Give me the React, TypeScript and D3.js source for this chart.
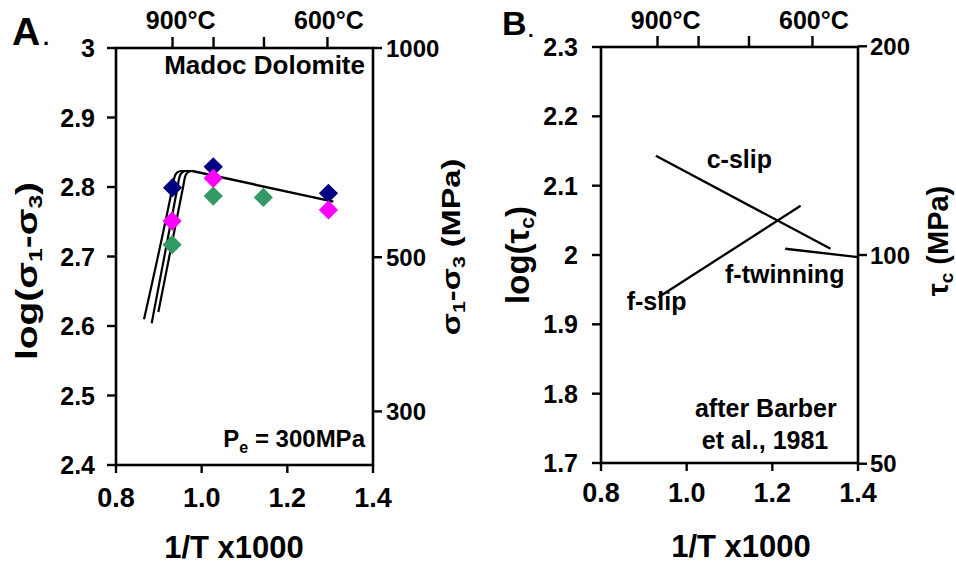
import React, { useEffect } from 'react'
import * as d3 from 'd3'

const FONT = '"Liberation Sans", Arial, Helvetica, sans-serif'

// shared x axis (1/T x1000) and the temperature ticks on top
const xTicks = [0.8, 1.0, 1.2, 1.4]
const topTempsC = [800, 700, 600, 500]
const topLabels = [
  { text: '900°C', x: 0.951 },
  { text: '600°C', x: 1.297 },
]

// panel A: log(s1-s3)
const ticksA = [2.4, 2.5, 2.6, 2.7, 2.8, 2.9, 3.0]
const rightTicksA = [1000, 500, 300]
const navyA = [
  [0.932, 2.799],
  [1.027, 2.829],
  [1.296, 2.791],
]
const greenA = [
  [0.931, 2.717],
  [1.027, 2.787],
  [1.144, 2.785],
]
const magentaA = [
  [0.931, 2.751],
  [1.027, 2.8125],
  [1.296, 2.767],
]
// three rising branches with rounded knee, then one common falling branch
const fitA1 = [[0.8654, 2.6096], [0.932, 2.8], [0.9365, 2.814], [0.943, 2.821], [0.952, 2.823], [0.978, 2.823]]
const fitA2 = [[0.8833, 2.6039], [0.9437, 2.8], [0.948, 2.814], [0.9545, 2.821], [0.963, 2.823], [0.978, 2.823]]
const fitA3 = [[0.8988, 2.6201], [0.9566, 2.8], [0.961, 2.814], [0.9675, 2.821], [0.978, 2.823]]
const fitTop = [[0.978, 2.823], [1.3073, 2.779]]

// panel B: log(tau_c), after Barber et al. 1981
const ticksB = [1.7, 1.8, 1.9, 2.0, 2.1, 2.2, 2.3]
const rightTicksB = [200, 100, 50]
const cSlip = [
  [0.928, 2.143],
  [1.336, 2.009],
]
const fSlip = [
  [0.934, 1.939],
  [1.266, 2.071],
]
const fTwinning = [
  [1.23, 2.009],
  [1.4, 1.997],
]

const fmtY = (v) => String(+v.toFixed(1))

const Frame = ({ left, right, top, bottom, yDomain, yTicks, rightTicks, leftGap, rightGap, xLabelDy, children }) => {
  const x = d3.scaleLinear().domain([0.8, 1.4]).range([left, right])
  const y = d3.scaleLinear().domain(yDomain).range([bottom, top])
  return (
    <g>
      {children(x, y)}
      <rect x={left} y={top} width={right - left} height={bottom - top} fill="none" stroke="#000" strokeWidth={2.6} />
      {yTicks.map((t) => (
        <g key={'l' + t}>
          <line x1={left - 9} x2={left} y1={y(t)} y2={y(t)} stroke="#000" strokeWidth={2.4} />
          <text x={left - leftGap} y={y(t)} dy="0.36em" textAnchor="end" fontSize={25} fontWeight="bold">
            {fmtY(t)}
          </text>
        </g>
      ))}
      {rightTicks.map((t) => (
        <g key={'r' + t}>
          <line x1={right} x2={right + 9} y1={y(Math.log10(t))} y2={y(Math.log10(t))} stroke="#000" strokeWidth={2.4} />
          <text x={right + rightGap} y={y(Math.log10(t))} dy="0.36em" fontSize={24} fontWeight="bold">
            {t}
          </text>
        </g>
      ))}
      {xTicks.map((t) => (
        <g key={'x' + t}>
          <line x1={x(t)} x2={x(t)} y1={bottom} y2={bottom + 8} stroke="#000" strokeWidth={2.4} />
          <text x={x(t)} y={bottom + xLabelDy} textAnchor="middle" fontSize={27} fontWeight="bold">
            {d3.format('.1f')(t)}
          </text>
        </g>
      ))}
      {topTempsC.map((c) => (
        <line key={'t' + c} x1={x(1000 / (c + 273))} x2={x(1000 / (c + 273))} y1={top} y2={top - 11} stroke="#000" strokeWidth={2.4} />
      ))}
      {topLabels.map((l) => (
        <text key={l.text} x={x(l.x)} y={29} textAnchor="middle" fontSize={25} fontWeight="bold">
          {l.text}
        </text>
      ))}
    </g>
  )
}

const Diamonds = ({ data, x, y, color }) => {
  const sym = d3.symbol(d3.symbolSquare, 185)()
  return (
    <g>
      {data.map((d, i) => (
        <path key={i} d={sym} fill={color} transform={`translate(${x(d[0])},${y(d[1])}) rotate(45)`} />
      ))}
    </g>
  )
}

const App = () => {
  useEffect(() => {
    document.body.style.margin = '0'
  }, [])

  return (
    <svg width={956} height={565} style={{ display: 'block', background: '#fff' }} fontFamily={FONT}>
      {/* panel A */}
      <text x={12} y={45} fontSize={39} fontWeight="bold">A</text>
      <text x={43} y={45} fontSize={22} fontWeight="bold">.</text>
      <Frame left={116} right={373} top={48} bottom={465} yDomain={[2.4, 3]} yTicks={ticksA} rightTicks={rightTicksA} leftGap={21} rightGap={13} xLabelDy={42}>
        {(x, y) => {
          const curve = d3.line().x((d) => x(d[0])).y((d) => y(d[1])).curve(d3.curveMonotoneX)
          const straight = d3.line().x((d) => x(d[0])).y((d) => y(d[1]))
          return (
            <g>
              {[fitA1, fitA2, fitA3].map((f, i) => (
                <path key={i} d={curve(f)} fill="none" stroke="#000" strokeWidth={2.2} />
              ))}
              <path d={straight(fitTop)} fill="none" stroke="#000" strokeWidth={2.4} />
              <Diamonds data={navyA} x={x} y={y} color="#000080" />
              <Diamonds data={greenA} x={x} y={y} color="#339966" />
              <Diamonds data={magentaA} x={x} y={y} color="#ff00ff" />
              <text x={x(1.3813)} y={y(2.9626)} textAnchor="end" fontSize={26} fontWeight="bold">Madoc Dolomite</text>
              <text x={x(1.3813)} y={y(2.4263)} textAnchor="end" fontSize={24} fontWeight="bold">
                P<tspan fontSize={16} dy={6}>e</tspan>
                <tspan dy={-6}> = 300MPa</tspan>
              </text>
            </g>
          )
        }}
      </Frame>
      <text transform="translate(37,271) rotate(-90) scale(1.3,1)" textAnchor="middle" fontSize={30} fontWeight="bold">
        log(σ<tspan fontSize={19} dy={5}>1</tspan>
        <tspan dy={-5}>-σ</tspan>
        <tspan fontSize={19} dy={5}>3</tspan>
        <tspan dy={-5}>)</tspan>
      </text>
      <text transform="translate(460,247) rotate(-90) scale(1.25,1)" textAnchor="middle" fontSize={26} fontWeight="bold">
        σ<tspan fontSize={17} dy={5}>1</tspan>
        <tspan dy={-5}>-σ</tspan>
        <tspan fontSize={17} dy={5}>3</tspan>
        <tspan dy={-5}> (MPa)</tspan>
      </text>
      <text x={234} y={558} textAnchor="middle" fontSize={31} fontWeight="bold">1/T x1000</text>

      {/* panel B */}
      <text x={502} y={35} fontSize={34} fontWeight="bold">B</text>
      <text x={528} y={37} fontSize={20} fontWeight="bold">.</text>
      <Frame left={601} right={858} top={47} bottom={463} yDomain={[1.7, 2.3]} yTicks={ticksB} rightTicks={rightTicksB} leftGap={23} rightGap={12} xLabelDy={39}>
        {(x, y) => {
          const line = d3.line().x((d) => x(d[0])).y((d) => y(d[1]))
          return (
            <g>
              {[cSlip, fSlip, fTwinning].map((f, i) => (
                <path key={i} d={line(f)} fill="none" stroke="#000" strokeWidth={2.3} />
              ))}
              <text x={x(1.0468)} y={y(2.125)} fontSize={25} fontWeight="bold">c-slip</text>
              <text x={x(1.0895)} y={y(1.9592)} fontSize={25} fontWeight="bold">f-twinning</text>
              <text x={x(0.86)} y={y(1.9203)} fontSize={25} fontWeight="bold">f-slip</text>
              <text x={x(1.1848)} y={y(1.7663)} textAnchor="middle" fontSize={25} fontWeight="bold">after Barber</text>
              <text x={x(1.1829)} y={y(1.7208)} textAnchor="middle" fontSize={25} fontWeight="bold">et al., 1981</text>
            </g>
          )
        }}
      </Frame>
      <text transform="translate(529,255) rotate(-90)" textAnchor="middle" fontSize={33} fontWeight="bold">
        log(τ<tspan fontSize={21} dy={5}>c</tspan>
        <tspan dy={-5}>)</tspan>
      </text>
      <text transform="translate(948,241) rotate(-90)" textAnchor="middle" fontSize={29} fontWeight="bold">
        τ<tspan fontSize={19} dy={5}>c</tspan>
        <tspan dy={-5}> (MPa)</tspan>
      </text>
      <text x={741} y={557} textAnchor="middle" fontSize={31} fontWeight="bold">1/T x1000</text>
    </svg>
  )
}

export default App
